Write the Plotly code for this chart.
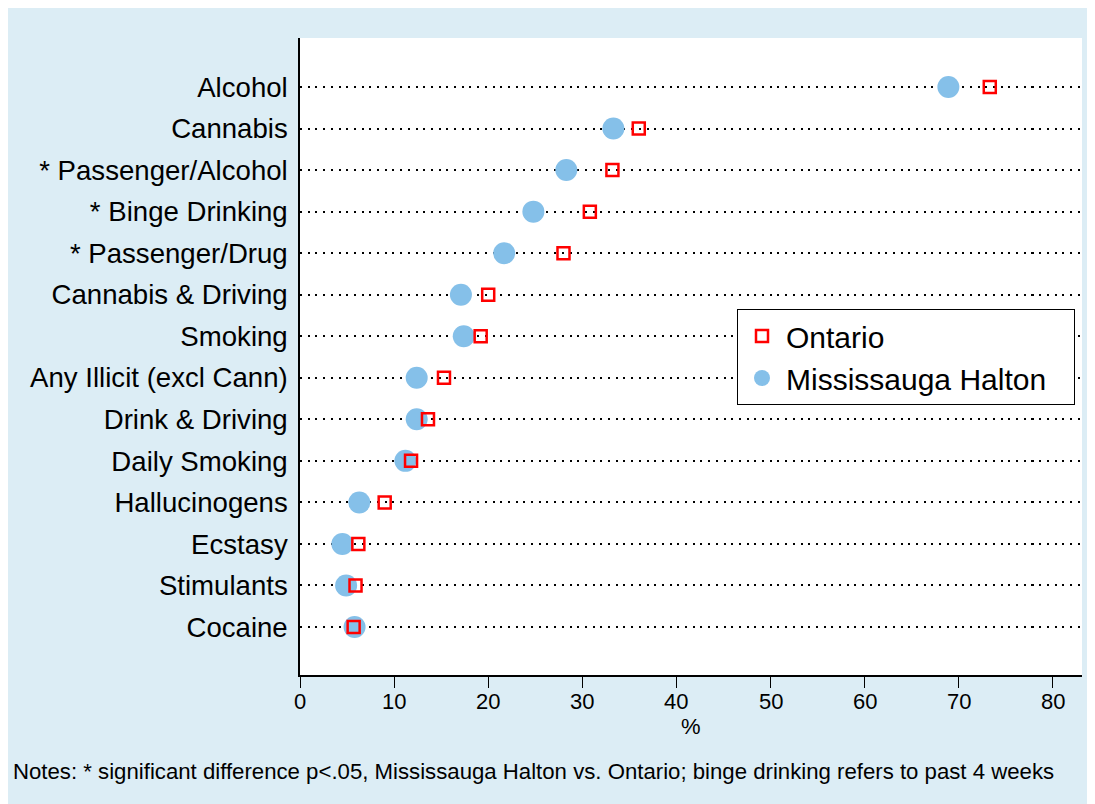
import plotly.graph_objects as go

categories = ["Alcohol", "Cannabis", "* Passenger/Alcohol", "* Binge Drinking",
              "* Passenger/Drug", "Cannabis & Driving", "Smoking",
              "Any Illicit (excl Cann)", "Drink & Driving", "Daily Smoking",
              "Hallucinogens", "Ecstasy", "Stimulants", "Cocaine"]
mississauga_halton = [68.9, 33.3, 28.3, 24.8, 21.7, 17.1, 17.4, 12.4, 12.4, 11.2, 6.3, 4.5, 4.9, 5.8]
ontario = [73.3, 36.0, 33.2, 30.8, 28.0, 20.0, 19.2, 15.3, 13.6, 11.8, 9.0, 6.2, 5.9, 5.7]
x_ticks = [0, 10, 20, 30, 40, 50, 60, 70, 80]
notes = "Notes: * significant difference p<.05, Mississauga Halton vs. Ontario; binge drinking refers to past 4 weeks"

FONT = "Liberation Sans, Arial, Helvetica, sans-serif"
BG = "#dcedf5"

fig = go.Figure()
fig.add_trace(go.Scatter(
    x=mississauga_halton, y=categories, mode="markers",
    name="Mississauga Halton\u00a0\u00a0\u2009",
    marker=dict(symbol="circle", size=22, color="#85c0e9", line=dict(width=0)),
))
fig.add_trace(go.Scatter(
    x=ontario, y=categories, mode="markers", name="Ontario",
    marker=dict(symbol="square-open", size=12, color="#ff0000", line=dict(width=2.5, color="#ff0000")),
))

OFF = 8  # page body margin
W, H = 1095 - OFF, 804 - OFF
L, T = 300 - OFF, 38 - OFF
R = W - (1082 - OFF)
B = H - (675 - OFF)
pw, ph = W - L - R, H - T - B

def px_x(p):
    return (p - OFF - L) / pw

def px_y(p):
    return (H - B - (p - OFF)) / ph

tick_annotations = [
    dict(text=str(v), xref="x", yref="paper", x=v, y=px_y(701),
         xanchor="center", yanchor="middle", showarrow=False,
         font=dict(size=22, family=FONT, color="black"))
    for v in x_ticks
]

fig.update_layout(
    width=W, height=H,
    margin=dict(l=L, r=R, t=T, b=B, pad=0),
    paper_bgcolor=BG, plot_bgcolor="white",
    font=dict(family=FONT, color="black"),
    showlegend=True,
    legend=dict(
        x=px_x(737), y=px_y(309), xanchor="left", yanchor="top",
        bgcolor="white", bordercolor="black", borderwidth=1,
        font=dict(size=30, family=FONT, color="black"),
        traceorder="reversed", itemsizing="trace", itemwidth=38,
    ),
    annotations=tick_annotations + [
        dict(text=notes, xref="paper", yref="paper", x=px_x(11), y=px_y(771),
             xanchor="left", yanchor="middle", showarrow=False,
             font=dict(size=22.2, family=FONT, color="black")),
        dict(text="%", xref="paper", yref="paper", x=0.5, y=px_y(726),
             xanchor="center", yanchor="middle", showarrow=False,
             font=dict(size=22, family=FONT, color="black")),
    ],
    hovermode=False,
)

fig.update_xaxes(
    range=[0, 83.1], tickvals=x_ticks, showticklabels=False,
    showgrid=False, zeroline=False,
    showline=True, linecolor="black", linewidth=1.5,
    ticks="outside", ticklen=11, tickwidth=1.2, tickcolor="black",
)
fig.update_yaxes(
    type="category", categoryorder="array", categoryarray=categories,
    range=[14.155, -1.18],
    showgrid=True, gridcolor="black", gridwidth=2, griddash="2px,5.7px",
    showline=True, linecolor="black", linewidth=1.5,
    ticks="", ticklabelstandoff=5,
    tickfont=dict(size=27.6, family=FONT, color="black"),
    zeroline=False,
)

fig.write_html("out.html")
